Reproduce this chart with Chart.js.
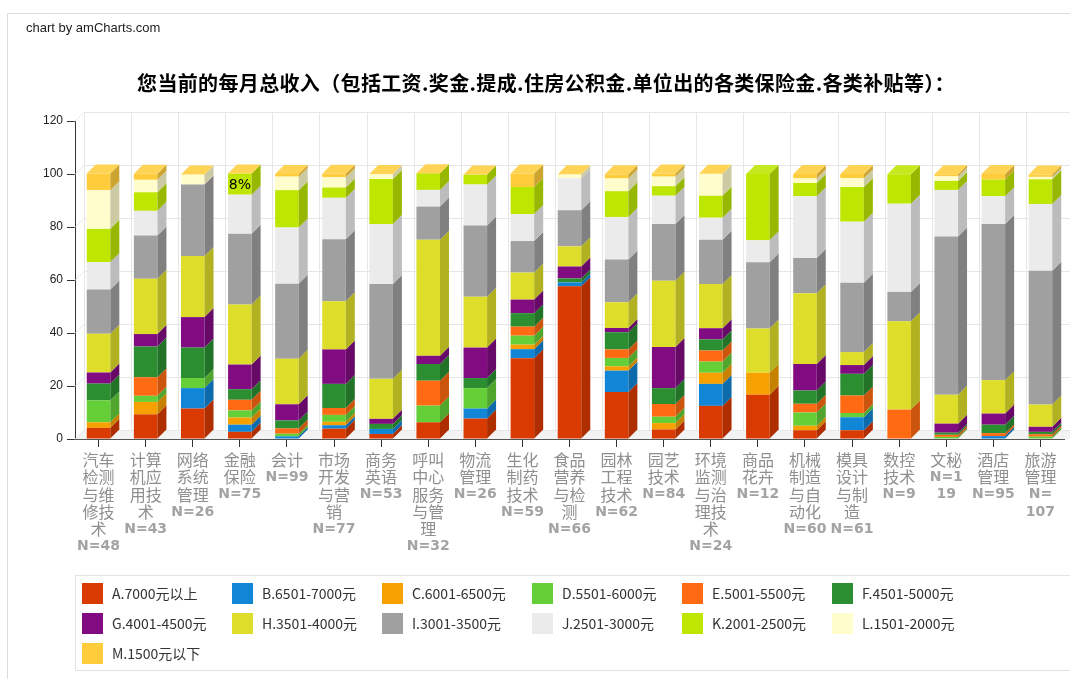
<!DOCTYPE html>
<html><head><meta charset="utf-8">
<script src="https://cdn.jsdelivr.net/npm/chart.js@4/dist/chart.umd.min.js"></script>
<style>
html,body{margin:0;padding:0;background:#fff;width:1070px;height:679px;overflow:hidden;}
#wrap{position:relative;width:1070px;height:679px;overflow:hidden;}
#frame{position:absolute;left:7px;top:13px;width:1090px;height:700px;border:1px solid #dcdcdc;box-sizing:border-box;}
#credit{position:absolute;left:26px;top:20px;font:13px 'Liberation Sans',Arial,sans-serif;color:#222;}
#title{position:absolute;left:6px;width:1080px;top:70px;text-align:center;font:bold 20px 'Noto Sans CJK SC';letter-spacing:0.35px;color:#000;line-height:26px;}
canvas{position:absolute;left:0;top:0;}
#legend{position:absolute;left:75px;top:575px;width:1010px;height:96px;border:1px solid #e3e3e3;box-sizing:border-box;}
.li{position:absolute;height:21px;line-height:21px;font:14px 'Noto Sans CJK SC';color:#333;}
.sw{position:absolute;left:0;top:0;width:21px;height:21px;}
.lt{position:absolute;left:30px;top:0;white-space:nowrap;}
</style></head>
<body><div id="wrap">
<div id="frame"></div>
<canvas id="c" width="1070" height="679"></canvas>
<div id="credit">chart by amCharts.com</div>
<div id="title">您当前的每月总收入（包括工资.奖金.提成.住房公积金.单位出的各类保险金.各类补贴等）：</div>
<div id="legend"></div>
</div>
<script>
const categories = ['汽车检测与维修技术','计算机应用技术','网络系统管理','金融保险','会计','市场开发与营销','商务英语','呼叫中心服务与管理','物流管理','生化制药技术','食品营养与检测','园林工程技术','园艺技术','环境监测与治理技术','商品花卉','机械制造与自动化','模具设计与制造','数控技术','文秘','酒店管理','旅游管理'];
const counts = [48,43,26,75,99,77,53,32,26,59,66,62,84,24,12,60,61,9,119,95,107];
const tickLabels = [
 ['汽车','检测','与维','修技','术','N=48'],
 ['计算','机应','用技','术','N=43'],
 ['网络','系统','管理','N=26'],
 ['金融','保险','N=75'],
 ['会计','N=99'],
 ['市场','开发','与营','销','N=77'],
 ['商务','英语','N=53'],
 ['呼叫','中心','服务','与管','理','N=32'],
 ['物流','管理','N=26'],
 ['生化','制药','技术','N=59'],
 ['食品','营养','与检','测','N=66'],
 ['园林','工程','技术','N=62'],
 ['园艺','技术','N=84'],
 ['环境','监测','与治','理技','术','N=24'],
 ['商品','花卉','N=12'],
 ['机械','制造','与自','动化','N=60'],
 ['模具','设计','与制','造','N=61'],
 ['数控','技术','N=9'],
 ['文秘','N=1','19'],
 ['酒店','管理','N=95'],
 ['旅游','管理','N=','107']
];
const yTicks = [0,20,40,60,80,100,120];
const seriesNames = ['A.7000元以上','B.6501-7000元','C.6001-6500元','D.5501-6000元','E.5001-5500元','F.4501-5000元','G.4001-4500元','H.3501-4000元','I.3001-3500元','J.2501-3000元','K.2001-2500元','L.1501-2000元','M.1500元以下'];
const seriesColors = ['#D93A00','#1286D6','#F7A100','#64CF37','#FF6A12','#2B8F32','#810C81','#DDDD2A','#A0A0A0','#EBEBEB','#BDE600','#FFFDCC','#FFCD3C'];
const sA = [4.2,9.3,11.5,2.7,0,3.9,1.9,6.3,7.7,30.5,57.6,17.7,3.6,12.5,16.7,3.3,3.3,0,0,0,0];
const sB = [0,0,7.7,2.7,1.0,1.3,1.9,0,3.8,3.4,1.5,8.1,0,8.3,0,0,4.9,0,0,1.1,0];
const sC = [2.1,4.7,0,2.7,0,1.3,0,0,0,1.7,0,1.6,2.4,4.2,8.3,1.7,0,0,0,0,0];
const sD = [8.3,2.3,3.8,2.7,1.0,2.6,0,6.3,7.7,3.4,0,3.2,2.4,4.2,0,5.0,1.6,0,0.8,0,0.9];
const sE = [0,7.0,0,4.0,2.0,2.6,0,9.4,0,3.4,0,3.2,4.8,4.2,0,3.3,6.6,11.1,0.8,1.1,0.9];
const sF = [6.3,11.6,11.5,4.0,3.0,9.1,1.9,6.3,3.8,5.1,1.5,6.5,6.0,4.2,0,5.0,8.2,0,0.8,3.2,0.9];
const sG = [4.2,4.7,11.5,9.3,6.1,13.0,1.9,3.1,11.5,5.1,4.5,1.6,15.5,4.2,0,10.0,3.3,0,3.4,4.2,1.9];
const sH = [14.6,20.9,23.1,22.7,17.2,18.2,15.1,43.8,19.2,10.2,7.6,9.7,25.0,16.7,16.7,26.7,4.9,33.3,10.9,12.6,8.4];
const sI = [16.7,16.3,26.9,26.7,28.3,23.4,35.8,12.5,26.9,11.9,13.6,16.1,21.4,16.7,25.0,13.3,26.2,11.1,59.7,58.9,50.5];
const sJ = [10.4,9.3,0,14.7,21.2,15.6,22.6,6.3,15.4,10.2,12.1,16.1,10.7,8.3,8.3,23.3,23.0,33.3,17.6,10.5,25.2];
const sK = [12.5,7.0,0,8.0,14.1,3.9,17.0,6.3,3.8,10.2,0,9.7,3.6,8.3,25.0,5.0,13.1,11.1,3.4,6.3,9.3];
const sL = [14.6,4.7,3.8,0,5.1,3.9,1.9,0,0,0,1.5,4.8,3.6,8.3,null,1.7,3.3,null,1.7,0,0.9];
const sM = [6.3,2.3,0,0,1.0,1.3,0,0,0,5.1,0,1.6,1.2,0,null,1.7,1.6,null,0.8,2.1,0.9];
const seriesValues = [sA,sB,sC,sD,sE,sF,sG,sH,sI,sJ,sK,sL,sM];
const segmentLabels = [{category:3, series:10, text:'8%'}];

// legend (HTML)
const lg = document.getElementById('legend');
seriesNames.forEach((n,i)=>{
  const d=document.createElement('div'); d.className='li';
  d.style.left=(6+150*(i%6))+'px'; d.style.top=(7+30*Math.floor(i/6))+'px';
  d.innerHTML='<div class="sw" style="background:'+seriesColors[i]+'"></div><div class="lt"></div>';
  d.querySelector('.lt').textContent=n; lg.appendChild(d);
});

function shade(hex,f){
  const n=parseInt(hex.slice(1),16); let r=n>>16,g=(n>>8)&255,b=n&255;
  if(f<1){r*=f;g*=f;b*=f;} else {const t=f-1; r+= (255-r)*t; g+=(255-g)*t; b+=(255-b)*t;}
  return 'rgb('+Math.round(r)+','+Math.round(g)+','+Math.round(b)+')';
}
const DX=9, DY=9;
const threeD = {
  id:'threeD',
  beforeDatasetsDraw(chart){
    const {ctx, chartArea:a, scales:{x,y}} = chart;
    const step = x.getPixelForValue(1)-x.getPixelForValue(0);
    ctx.save();
    ctx.fillStyle='#f3f3f3';
    ctx.beginPath(); ctx.moveTo(a.left,a.bottom); ctx.lineTo(a.left+DX,a.bottom-DY); ctx.lineTo(a.right+DX+20,a.bottom-DY); ctx.lineTo(a.right+20,a.bottom); ctx.closePath(); ctx.fill();
    ctx.strokeStyle='#e6e6e6'; ctx.lineWidth=1;
    yTicks.forEach(v=>{
      const py=Math.round(y.getPixelForValue(v))+0.5;
      ctx.beginPath(); ctx.moveTo(a.left,py); ctx.lineTo(a.left+DX,py-DY); ctx.lineTo(a.right+DX+20,py-DY); ctx.stroke();
    });
    for(let i=0;i<=categories.length;i++){
      const px=Math.round(x.getPixelForValue(i)-step/2+DX)+0.5;
      ctx.beginPath(); ctx.moveTo(px,y.getPixelForValue(120)-DY); ctx.lineTo(px,a.bottom-DY); ctx.stroke();
    }
    ctx.restore();
  },
  afterDatasetsDraw(chart){
    const {ctx} = chart;
    ctx.save();
    for(let i=0;i<categories.length;i++){
      let topEl=null, topIdx=-1;
      for(let d=0; d<seriesValues.length; d++){
        const v=seriesValues[d][i]; if(v===null||v===undefined) continue;
        const el=chart.getDatasetMeta(d).data[i];
        const r=el.x+el.width/2, top=el.y, bot=el.base;
        if(v>0){
          ctx.fillStyle=shade(seriesColors[d],0.8);
          ctx.beginPath(); ctx.moveTo(r,bot); ctx.lineTo(r+DX,bot-DY); ctx.lineTo(r+DX,top-DY); ctx.lineTo(r,top); ctx.closePath(); ctx.fill();
        }
        topEl=el; topIdx=d;
      }
      if(topEl){
        const l=topEl.x-topEl.width/2, r=topEl.x+topEl.width/2, t=topEl.y;
        ctx.fillStyle=shade(seriesColors[topIdx],1.12);
        ctx.beginPath(); ctx.moveTo(l,t); ctx.lineTo(l+DX,t-DY); ctx.lineTo(r+DX,t-DY); ctx.lineTo(r,t); ctx.closePath(); ctx.fill();
      }
    }
    segmentLabels.forEach(s=>{
      const el=chart.getDatasetMeta(s.series).data[s.category];
      ctx.font='14px "DejaVu Sans"'; ctx.fillStyle='#000'; ctx.textAlign='center'; ctx.textBaseline='middle';
      ctx.fillText(s.text, el.x, (el.y+el.base)/2+1);
    });
    ctx.restore();
  },
  afterDraw(chart){
    const {ctx, chartArea:a, scales:{x}} = chart;
    ctx.save(); ctx.textAlign='center'; ctx.textBaseline='middle';
    tickLabels.forEach((lines,i)=>{
      const px=x.getPixelForValue(i);
      lines.forEach((ln,j)=>{
        const bold=/^[N=0-9]+$/.test(ln);
        ctx.font = bold ? 'bold 14px "DejaVu Sans"' : '16px "Noto Sans CJK SC"';
        ctx.fillStyle = bold ? '#a3a3a3' : '#8f8f8f';
        ctx.fillText(ln, px, a.bottom+21+j*17.3);
      });
    });
    ctx.restore();
  }
};

new Chart(document.getElementById('c').getContext('2d'), {
  type:'bar',
  data:{labels:categories, datasets: seriesNames.map((n,i)=>({label:n, data:seriesValues[i], backgroundColor:seriesColors[i], borderWidth:0, barPercentage:0.5, categoryPercentage:1}))},
  options:{
    responsive:false, animation:false, devicePixelRatio:1,
    layout:{padding:{top:121,right:6,left:0,bottom:0}},
    plugins:{legend:{display:false},tooltip:{enabled:false},title:{display:false}},
    scales:{
      x:{stacked:true, grid:{display:true,drawOnChartArea:false,offset:false,tickLength:8,color:'#333'}, border:{display:true,color:'#555'}, ticks:{display:false}, afterFit:s=>{s.height=240;}},
      y:{stacked:true, min:0, max:120, ticks:{stepSize:20, padding:4, color:'#222', font:{family:'Liberation Sans',size:12}}, grid:{drawOnChartArea:false,tickLength:8,color:'#333'}, border:{display:true,color:'#333'}, afterFit:s=>{s.width=75;}}
    }
  },
  plugins:[threeD]
});
</script>
</body></html>
